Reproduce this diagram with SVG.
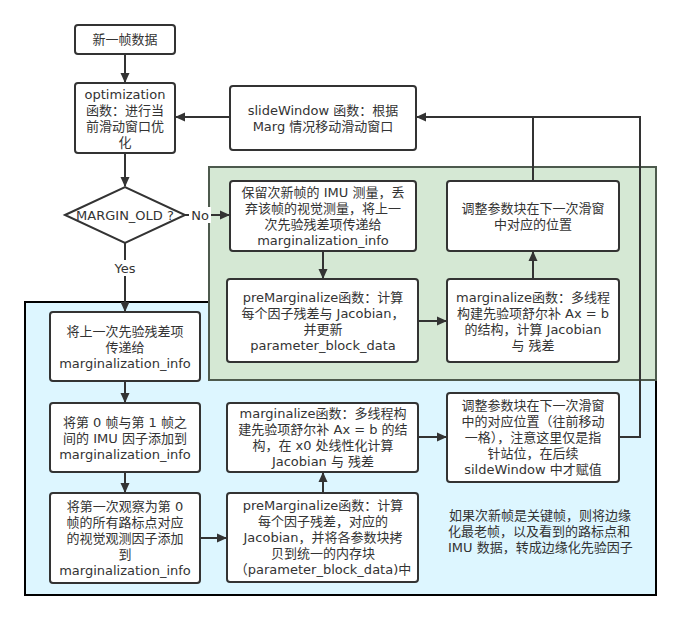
<svg xmlns="http://www.w3.org/2000/svg" width="681" height="620" viewBox="0 0 681 620">
<defs>
<marker id="ah" viewBox="0 0 10 10" refX="9" refY="5" markerWidth="10" markerHeight="10" orient="auto" markerUnits="userSpaceOnUse">
<path d="M0,0.5 L10,5 L0,9.5 Z" fill="#333"/>
</marker>
<style>
.box{fill:#fff;stroke:#333;stroke-width:2}
.t{font-family:"DejaVu Sans","Noto Sans CJK SC",sans-serif;font-size:13px;fill:#333;text-anchor:middle;dominant-baseline:central}
.tl{font-family:"DejaVu Sans","Noto Sans CJK SC",sans-serif;font-size:13px;fill:#333;text-anchor:start;dominant-baseline:central}
.e{fill:none;stroke:#333;stroke-width:2}
.ea{fill:none;stroke:#333;stroke-width:2;marker-end:url(#ah)}
</style>
</defs>
<rect width="681" height="620" fill="#fff"/>
<g id="blue-region"><rect x="25" y="302" width="631" height="293" fill="#ddf6ff" stroke="#000" stroke-width="2"/></g>
<g id="green-region"><rect x="209" y="167" width="447" height="213" fill="#d5e8d4" stroke="#4d5a4d" stroke-width="2"/></g>

<g id="connectors">
<path class="ea" d="M125,54 V82"/>
<path class="ea" d="M125,153 V186"/>
<path class="ea" d="M230,117 H176"/>
<path class="ea" d="M185,215 H229"/>
<path class="ea" d="M125,243 V311"/>
<path class="e" d="M533,181 V117"/>
<path class="ea" d="M619,437 H640 V117 H417"/>
<path class="ea" d="M323,251 V278"/>
<path class="ea" d="M418,321 H446"/>
<path class="ea" d="M533,279 V252"/>
<path class="ea" d="M125,381 V402"/>
<path class="ea" d="M125,472 V492"/>
<path class="ea" d="M200,538 H226"/>
<path class="ea" d="M323,493 V473"/>
<path class="ea" d="M418,437 H446"/>
<rect x="189" y="207" width="22" height="16" fill="#fff"/>
<text class="t" x="200" y="215">No</text>
<rect x="111" y="260" width="28" height="16" fill="#fff"/>
<text class="t" x="125" y="268">Yes</text>
</g>

<g id="n-new"><rect class="box" x="75" y="25" width="100" height="29" rx="3"/><text class="t" x="125" y="39.5">新一帧数据</text></g>
<g id="n-opt"><rect class="box" x="75" y="83" width="100" height="70" rx="3"/>
<text class="t"><tspan x="125" y="94">optimization</tspan><tspan x="125" y="110">函数：进行当</tspan><tspan x="125" y="126">前滑动窗口优</tspan><tspan x="125" y="142">化</tspan></text></g>
<g id="n-slide"><rect class="box" x="230" y="86" width="186" height="64" rx="3"/>
<text class="t"><tspan x="323" y="110">slideWindow 函数：根据</tspan><tspan x="323" y="126">Marg 情况移动滑动窗口</tspan></text></g>
<g id="n-decision"><path d="M65,215 L125,187 L185,215 L125,243 Z" fill="#fff" stroke="#333" stroke-width="2"/>
<text class="t" x="125" y="215">MARGIN_OLD ?</text></g>

<g id="g-keep"><rect class="box" x="230" y="181" width="186" height="70" rx="3"/>
<text class="t"><tspan x="323" y="192">保留次新帧的 IMU 测量，丢</tspan><tspan x="323" y="208">弃该帧的视觉测量，将上一</tspan><tspan x="323" y="224">次先验残差项传递给</tspan><tspan x="323" y="240">marginalization_info</tspan></text></g>
<g id="g-adjust"><rect class="box" x="447" y="181" width="172" height="70" rx="3"/>
<text class="t"><tspan x="533" y="208">调整参数块在下一次滑窗</tspan><tspan x="533" y="224">中对应的位置</tspan></text></g>
<g id="g-pre"><rect class="box" x="227" y="279" width="191" height="83" rx="3"/>
<text class="t"><tspan x="323" y="297">preMarginalize函数：计算</tspan><tspan x="323" y="313">每个因子残差与 Jacobian，</tspan><tspan x="323" y="329">并更新</tspan><tspan x="323" y="345">parameter_block_data</tspan></text></g>
<g id="g-marg"><rect class="box" x="447" y="279" width="172" height="83" rx="3"/>
<text class="t"><tspan x="533" y="297">marginalize函数：多线程</tspan><tspan x="533" y="313">构建先验项舒尔补 Ax = b</tspan><tspan x="533" y="329">的结构，计算 Jacobian</tspan><tspan x="533" y="345">与 残差</tspan></text></g>

<g id="b-pass"><rect class="box" x="50" y="312" width="150" height="69" rx="3"/>
<text class="t"><tspan x="125" y="331">将上一次先验残差项</tspan><tspan x="125" y="347">传递给</tspan><tspan x="125" y="363">marginalization_info</tspan></text></g>
<g id="b-imu"><rect class="box" x="50" y="403" width="150" height="69" rx="3"/>
<text class="t"><tspan x="125" y="422">将第 0 帧与第 1 帧之</tspan><tspan x="125" y="438">间的 IMU 因子添加到</tspan><tspan x="125" y="454">marginalization_info</tspan></text></g>
<g id="b-visual"><rect class="box" x="50" y="493" width="150" height="90" rx="3"/>
<text class="t"><tspan x="125" y="506">将第一次观察为第 0</tspan><tspan x="125" y="522">帧的所有路标点对应</tspan><tspan x="125" y="538">的视觉观测因子添加</tspan><tspan x="125" y="554">到</tspan><tspan x="125" y="570">marginalization_info</tspan></text></g>
<g id="b-marg"><rect class="box" x="227" y="403" width="191" height="69" rx="3"/>
<text class="t"><tspan x="323" y="413">marginalize函数：多线程构</tspan><tspan x="323" y="429">建先验项舒尔补 Ax = b 的结</tspan><tspan x="323" y="445">构，在 x0 处线性化计算</tspan><tspan x="323" y="461">Jacobian 与 残差</tspan></text></g>
<g id="b-pre"><rect class="box" x="227" y="493" width="191" height="89" rx="3"/>
<text class="t"><tspan x="323" y="505">preMarginalize函数：计算</tspan><tspan x="323" y="521">每个因子残差，对应的</tspan><tspan x="323" y="537">Jacobian，并将各参数块拷</tspan><tspan x="323" y="553">贝到统一的内存块</tspan><tspan x="323" y="569">（parameter_block_data)中</tspan></text></g>
<g id="b-adjust"><rect class="box" x="447" y="393" width="172" height="89" rx="3"/>
<text class="t"><tspan x="533" y="405">调整参数块在下一次滑窗</tspan><tspan x="533" y="421">中的对应位置（往前移动</tspan><tspan x="533" y="437">一格），注意这里仅是指</tspan><tspan x="533" y="453">针站位，在后续</tspan><tspan x="533" y="469">sildeWindow 中才赋值</tspan></text></g>
<g id="b-note">
<text class="tl"><tspan x="449" y="515">如果次新帧是关键帧，则将边缘</tspan><tspan x="448" y="531">化最老帧，以及看到的路标点和</tspan><tspan x="448" y="547">IMU 数据，转成边缘化先验因子</tspan></text></g>
</svg>
